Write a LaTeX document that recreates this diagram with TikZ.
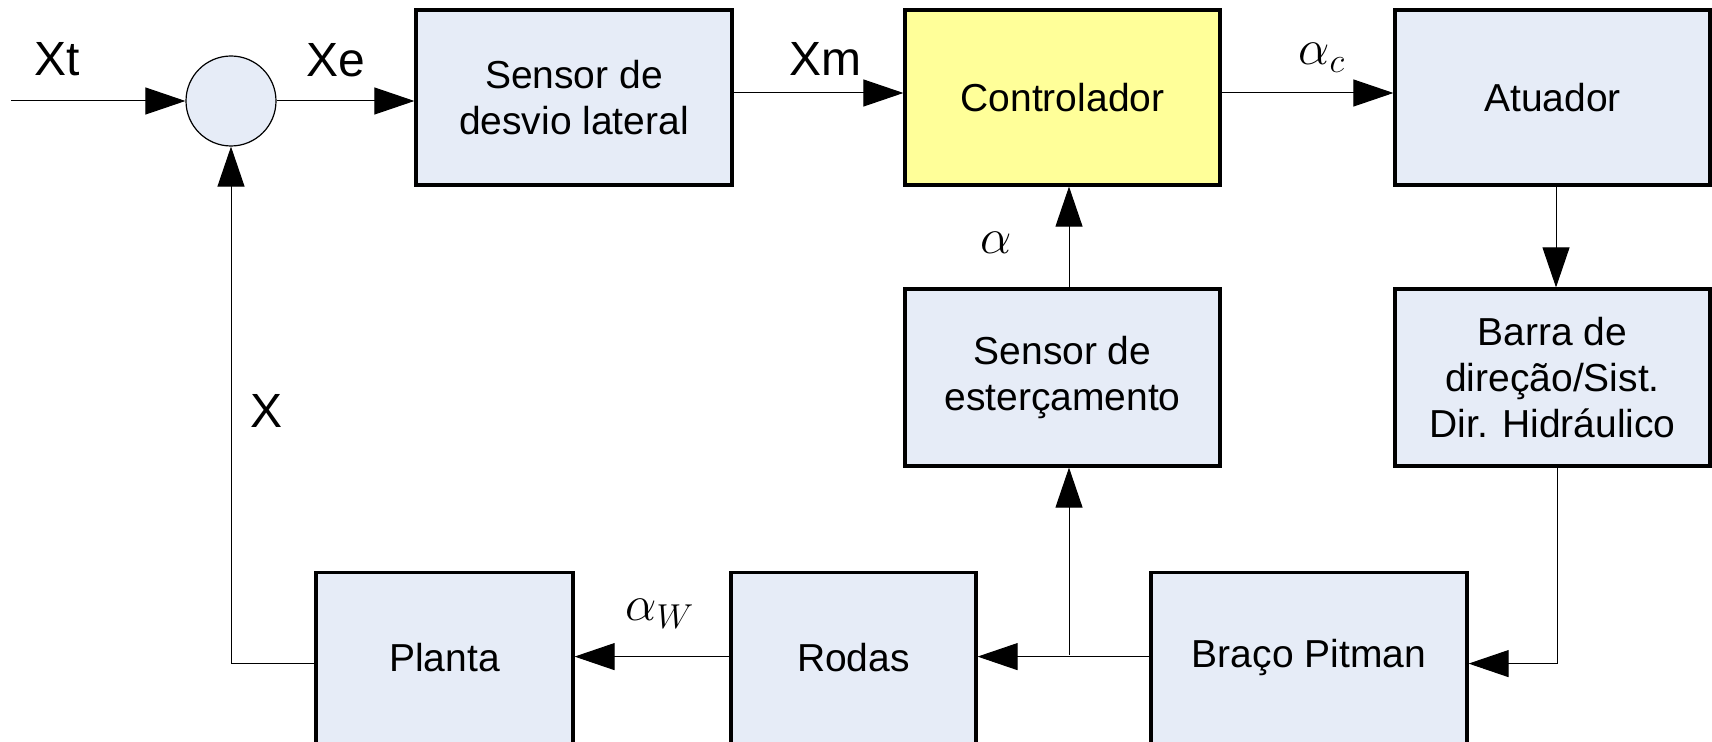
\documentclass[tikz,border=0pt]{standalone}
\usepackage{fontspec}
\setmainfont{Liberation Sans}
\usetikzlibrary{arrows.meta}
\definecolor{blkfill}{HTML}{E6ECF7}
\definecolor{ctlfill}{HTML}{FFFF99}
\begin{document}
\begin{tikzpicture}[x=0.5pt,y=-0.5pt,
  boxfont/.style={font=\fontsize{19.5pt}{23pt}\selectfont},
  blk/.style={draw=black, line width=1.6pt, fill=blkfill, rectangle, inner sep=0pt,
    align=center, boxfont, minimum width=158pt, minimum height=87.5pt},
  lowblk/.style={blk, anchor=north, minimum height=100pt},
  sig/.style={font=\fontsize{24pt}{28pt}\selectfont, inner sep=0pt},
  con/.style={line width=0.5pt},
  arr/.style={con, -{Triangle[length=20pt,width=13.5pt]}}]
\clip (0,0) rectangle (1712,742);
% summing junction
\node[circle, draw=black, fill=blkfill, minimum size=45pt, inner sep=0pt, line width=0.6pt] (sum) at (231,101) {};
\coordinate (in) at (11,101);
% blocks
\node[blk] (sens) at (574,97.5) {Sensor de\\desvio lateral};
\node[blk, fill=ctlfill, minimum width=157.5pt] (ctrl) at (1062.5,97.5) {Controlador};
\node[blk, minimum width=157.5pt] (atu) at (1552.5,97.5) {Atuador};
\node[blk, minimum width=157.5pt, minimum height=88.5pt] (est) at (1062.5,377.5) {Sensor de\\esterçamento};
\node[blk, minimum width=157.5pt, minimum height=88.5pt] (barra) at (1552.5,377.5) {Barra de\\direção/Sist.\\Dir. Hidráulico};
\node[lowblk, minimum width=128.5pt, label={[boxfont, yshift=7.5pt]center:Planta}] (planta) at (444.5,571) {};
\node[lowblk, minimum width=122.5pt, label={[boxfont, yshift=7.5pt]center:Rodas}] (rodas) at (853.5,571) {};
\node[lowblk, minimum width=158pt, label={[boxfont, yshift=7.5pt]center:Braço Pitman}] (braco) at (1309,571) {};
% signal labels
\node[sig] (lxt) at (57,59) {Xt};
\node[sig] (lxe) at (336,60) {Xe};
\node[sig] (lxm) at (825,59) {Xm};
\node[sig] (lac) at (1322,58) {$\alpha_c$};
\node[sig] (la) at (996,243) {$\alpha$};
\node[sig] (lx) at (267,411) {X};
\node[sig] (law) at (660,614) {$\alpha_W$};
% connectors
\draw[arr] (in) -- (sum);
\draw[arr] (sum) -- (sum -| sens.west);
\draw[arr] ([yshift=2.25pt]sens.east) -- ([yshift=2.25pt]ctrl.west);
\draw[arr] ([yshift=2.25pt]ctrl.east) -- ([yshift=2.25pt]atu.west);
\draw[arr] ([xshift=1.75pt]atu.south) -- ([xshift=1.75pt]barra.north);
\draw[arr] ([xshift=3.25pt]est.north) -- ([xshift=3.25pt]ctrl.south);
\draw[arr] ([yshift=8pt]braco.west) -- ([yshift=8pt]rodas.east);
\coordinate (br) at (1069,655);
\draw[arr] (br) -- (br |- est.south);
\draw[arr] ([yshift=8pt]rodas.west) -- ([yshift=8pt]planta.east);
\draw[arr] ([yshift=4.5pt]planta.west) -| (sum.south);
\draw[arr] ([xshift=2.25pt]barra.south) |- ([yshift=4.5pt]braco.east);
\end{tikzpicture}
\end{document}
